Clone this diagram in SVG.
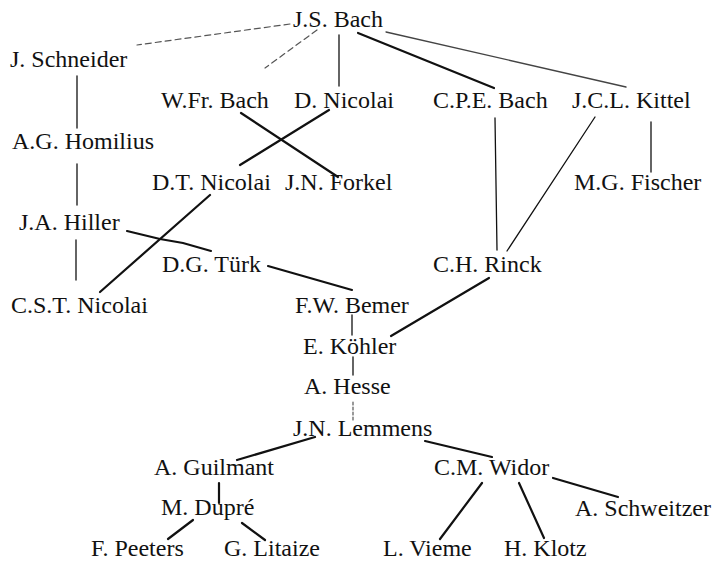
<svg xmlns="http://www.w3.org/2000/svg" width="716" height="561" viewBox="0 0 716 561">
<style>
text{font-family:"Liberation Serif","Times New Roman",serif;font-size:24px;fill:#111}
.c line,.c polyline{stroke:#111;fill:none;stroke-linecap:round}
.thick{stroke-width:2.2}
.thin{stroke-width:1.3}
.faint{stroke-width:1.2;stroke:#555 !important;stroke-dasharray:6 4}
</style>
<rect width="716" height="561" fill="#fff"/>
<g class="c" id="connectors">
<line class="faint" x1="290" y1="24" x2="137" y2="45"/>
<line class="faint" x1="317" y1="30" x2="265" y2="68"/>
<line class="thin" x1="339" y1="35" x2="339" y2="86"/>
<line class="thick" x1="358" y1="33" x2="494" y2="88"/>
<line class="thin" x1="386" y1="32" x2="626" y2="87" style="stroke:#444"/>
<line class="thin" x1="77" y1="76" x2="77" y2="128"/>
<line class="thick" x1="241" y1="113" x2="338" y2="177"/>
<line class="thick" x1="329" y1="110" x2="240" y2="165"/>
<line class="thin" x1="77" y1="164" x2="77" y2="205"/>
<line class="thin" x1="76" y1="240" x2="76" y2="280"/>
<line class="thick" x1="210" y1="195" x2="100" y2="292"/>
<polyline class="thick" points="127,231 160,239 183,243 211,251"/>
<line class="thick" x1="268" y1="266" x2="352" y2="290"/>
<line class="thin" x1="352" y1="315" x2="352" y2="335"/>
<line class="thin" x1="353" y1="357" x2="353" y2="375"/>
<line class="thin" x1="495" y1="118" x2="497" y2="250"/>
<line class="thin" x1="595" y1="117" x2="507" y2="251"/>
<line class="thick" x1="489" y1="278" x2="391" y2="336"/>
<line class="thin" x1="651" y1="122" x2="651" y2="172"/>
<line class="faint" x1="353" y1="402" x2="353" y2="422" style="stroke-dasharray:3 2"/>
<line class="thick" x1="315" y1="437" x2="237" y2="460"/>
<line class="thick" x1="219" y1="483" x2="219" y2="503"/>
<line class="thick" x1="193" y1="520" x2="168" y2="539"/>
<line class="thick" x1="242" y1="523" x2="265" y2="540"/>
<line class="thick" x1="425" y1="441" x2="492" y2="457"/>
<line class="thick" x1="553" y1="478" x2="618" y2="497"/>
<line class="thick" x1="482" y1="483" x2="440" y2="539"/>
<line class="thick" x1="519" y1="483" x2="544" y2="538"/>
</g>
<g id="n-jsbach"><text x="293" y="27">J.S. Bach</text></g>
<g id="n-schneider"><text x="10" y="67">J. Schneider</text></g>
<g id="n-wfbach"><text x="161" y="108">W.Fr. Bach</text></g>
<g id="n-dnicolai"><text x="294" y="108">D. Nicolai</text></g>
<g id="n-cpebach"><text x="433" y="108">C.P.E. Bach</text></g>
<g id="n-kittel"><text x="572" y="108">J.C.L. Kittel</text></g>
<g id="n-homilius"><text x="12" y="149">A.G. Homilius</text></g>
<g id="n-dtnicolai"><text x="152" y="190">D.T. Nicolai</text></g>
<g id="n-forkel"><text x="285" y="190">J.N. Forkel</text></g>
<g id="n-fischer"><text x="574" y="190">M.G. Fischer</text></g>
<g id="n-hiller"><text x="19" y="230">J.A. Hiller</text></g>
<g id="n-turk"><text x="162" y="272">D.G. Türk</text></g>
<g id="n-rinck"><text x="433" y="272">C.H. Rinck</text></g>
<g id="n-cstnicolai"><text x="11" y="313">C.S.T. Nicolai</text></g>
<g id="n-bemer"><text x="295" y="313">F.W. Bemer</text></g>
<g id="n-kohler"><text x="303" y="354">E. Köhler</text></g>
<g id="n-hesse"><text x="304" y="394">A. Hesse</text></g>
<g id="n-lemmens"><text x="293" y="436">J.N. Lemmens</text></g>
<g id="n-guilmant"><text x="154" y="475">A. Guilmant</text></g>
<g id="n-widor"><text x="434" y="475">C.M. Widor</text></g>
<g id="n-dupre"><text x="161" y="515">M. Dupré</text></g>
<g id="n-schweitzer"><text x="575" y="516">A. Schweitzer</text></g>
<g id="n-peeters"><text x="91" y="556">F. Peeters</text></g>
<g id="n-litaize"><text x="224" y="556">G. Litaize</text></g>
<g id="n-vieme"><text x="383" y="556">L. Vieme</text></g>
<g id="n-klotz"><text x="504" y="556">H. Klotz</text></g>
</svg>
